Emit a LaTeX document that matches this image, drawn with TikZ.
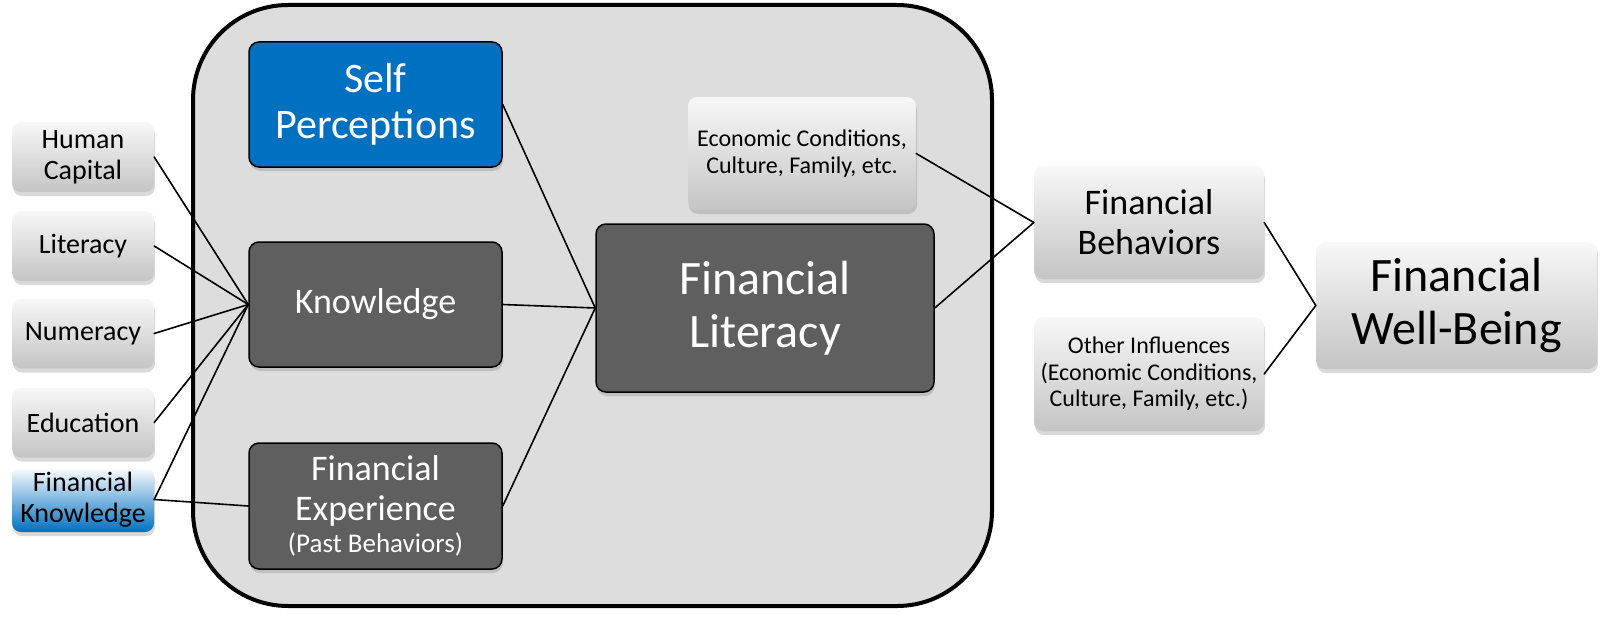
\documentclass[tikz,border=0pt]{standalone}
\usepackage{fontspec}
\setmainfont{Carlito}
\usetikzlibrary{shadows}
\definecolor{boxblue}{RGB}{0,112,192}
\definecolor{boxdark}{RGB}{95,95,95}
\definecolor{panelgray}{RGB}{221,221,221}

\begin{document}
\begin{tikzpicture}[line cap=round,line join=round,x=1pt,y=-1pt,
    shade/.style={drop shadow={shadow xshift=1pt,shadow yshift=-4pt,opacity=0.3}},
    lbox/.style={shade,rounded corners=9pt,top color=black!3,bottom color=black!23,
      align=center,inner sep=0pt,minimum width=142pt,minimum height=70pt,
      font=\fontsize{28}{31}\selectfont},
    dbox/.style={shade,rounded corners=10pt,draw=black,line width=1.5pt,fill=boxdark,
      text=white,align=center,inner sep=0pt,minimum width=253pt,minimum height=125pt,
      font=\fontsize{36}{40}\selectfont},
    link/.style={line width=1.6pt}]
    \useasboundingbox (0,0) rectangle (1600,618);
    \draw [line width=4pt,fill=panelgray,rounded corners=95pt] (193,5) rectangle (992,606);
    % left column
    \draw (83,157) node[lbox] (hc) {Human\\Capital};
    \draw (83,246) node[lbox] (lit) {Literacy};
    \draw (83,333.5) node[lbox] (num) {Numeracy};
    \draw (83,422.5) node[lbox] (edu) {Education};
    \draw (83,499.5) node[lbox,minimum height=65pt,top color=white,middle color=boxblue!30,
      bottom color=boxblue] (fk) {Financial\\Knowledge};
    % inside the panel
    \draw (375.5,104.5) node[dbox,fill=boxblue,font=\fontsize{42}{46}\selectfont] (sp) {Self\\Perceptions};
    \draw (375.5,304.5) node[dbox] (kn) {Knowledge};
    \draw (375.5,506) node[dbox,minimum height=126pt] (fe)
      {Financial\\Experience\\[-8pt]{\fontsize{27}{30}\selectfont (Past Behaviors)}};
    \draw (802,153.5) node[lbox,minimum width=228pt,minimum height=113pt,
      font=\fontsize{24}{26.5}\selectfont] (ec) {Economic Conditions,\\Culture, Family, etc.};
    \draw (765,308) node[dbox,minimum width=338pt,minimum height=168pt,
      font=\fontsize{48}{53}\selectfont] (fl) {Financial\\Literacy};
    % right side
    \draw (1149,222.5) node[lbox,minimum width=230pt,minimum height=113pt,
      font=\fontsize{36}{40}\selectfont] (fb) {Financial\\Behaviors};
    \draw (1149,374) node[lbox,minimum width=230pt,minimum height=114pt,
      font=\fontsize{24}{26.5}\selectfont] (oi)
      {Other Influences\\(Economic Conditions,\\Culture, Family, etc.)};
    \draw (1456.5,305.5) node[lbox,minimum width=281pt,minimum height=127pt,
      font=\fontsize{48}{53}\selectfont] (fwb) {Financial\\Well-Being};
    % connectors
    \draw [link] (hc.east)-- (kn.west);
    \draw [link] (lit.east)-- (kn.west);
    \draw [link] (num.east)-- (kn.west);
    \draw [link] (edu.east)-- (kn.west);
    \draw [link] (fk.east)-- (kn.west);
    \draw [link] (fk.east)-- (fe.west);
    \draw [link] (sp.east)-- (fl.west);
    \draw [link] (kn.east)-- (fl.west);
    \draw [link] (fe.east)-- (fl.west);
    \draw [link] (ec.east)-- (fb.west);
    \draw [link] (fl.east)-- (fb.west);
    \draw [link] (fb.east)-- (fwb.west);
    \draw [link] (oi.east)-- (fwb.west);
\end{tikzpicture}
\end{document}
